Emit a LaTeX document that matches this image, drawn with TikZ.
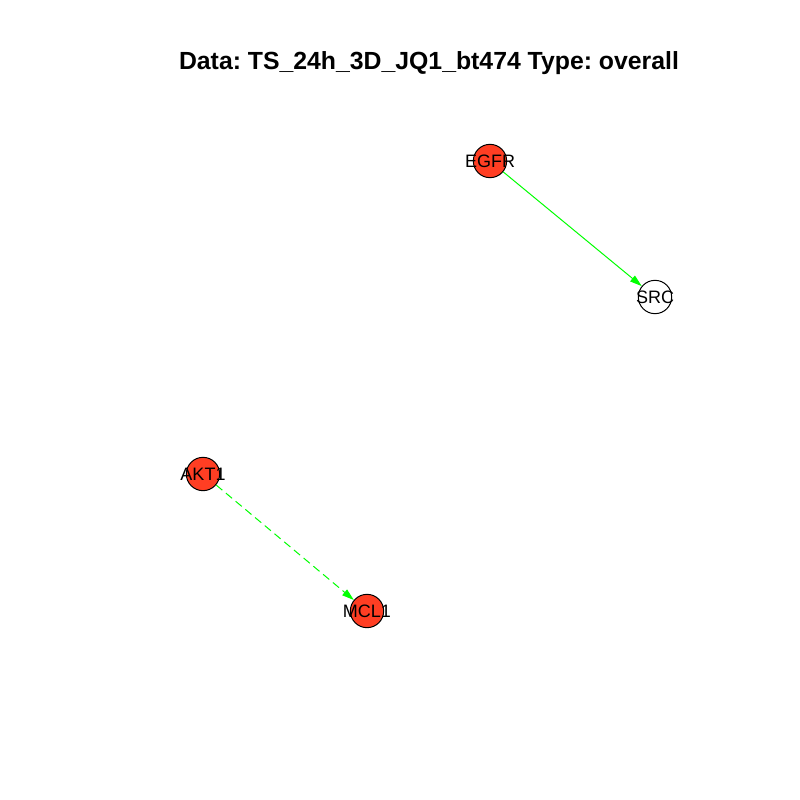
\documentclass[tikz,border=0pt]{standalone}
\usepackage{fontspec}
\setmainfont{Liberation Sans}
\usetikzlibrary{arrows.meta}
\definecolor{hit}{RGB}{255,62,35}
\frenchspacing

\begin{document}
\begin{tikzpicture}
[x=0.75pt,y=-0.75pt,
 vertex/.style={draw,circle,line width=0.75pt,minimum size=25pt,inner sep=0pt,
   label={[font=\fontsize{13.5}{16}\selectfont]center:#1}},
 act/.style={draw=green,line width=0.75pt,-{Triangle[length=9pt,width=5.5pt]}}]
\useasboundingbox (0,0) rectangle (800,800);
\node[font=\bfseries\fontsize{18.6}{22}\selectfont] (title) at (429,63) {Data: TS\_24h\_3D\_JQ1\_bt474 Type: overall};
\node[vertex=EGFR,fill=hit](egfr) at (490,161){};
\node[vertex=SRC](src) at (655,297){};
\node[vertex=AKT1,fill=hit](akt) at (203,474){};
\node[vertex=MCL1,fill=hit](mcl) at (367,611){};
\path (egfr) edge[act] (src); \path (akt) edge[act,dash pattern=on 6pt off 3.5pt] (mcl);
\end{tikzpicture}
\end{document}
